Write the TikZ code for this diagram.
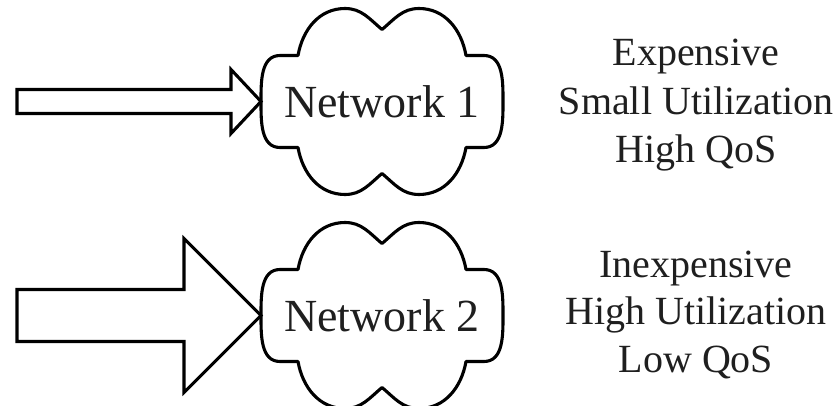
\documentclass[tikz,border=0pt]{standalone}
\usepackage{fontspec}
\setmainfont{Liberation Serif}
\begin{document}
\begin{tikzpicture}[x=1pt,y=1pt,
  outline/.style={draw=black, line width=3.1pt},
  cloudline/.style={outline, line join=round},
  arrowline/.style={outline, line join=miter, fill=white},
  netlabel/.style={inner sep=0pt, text=black!88, font=\fontsize{46}{50}\selectfont},
  proplabel/.style={inner sep=0pt, anchor=base, text=black!88, font=\fontsize{40}{48}\selectfont}]
  \useasboundingbox (0,0) rectangle (840,-406);
  \clip (0,0) rectangle (840,-406);

  % network labels, placed at the centre of each cloud
  \node[netlabel] (net1) at (382,-101.5) {Network 1};
  \node[netlabel] (net2) at (382,-315.5) {Network 2};

  % cloud outline around each label
  \foreach \n in {net1,net2}{
    \begin{scope}[shift={(\n.center)}]
      \coordinate (\n-tip) at (-121,0);
      \draw[cloudline] (0,72)
        to[out=40,in=180] (37,93) to[out=0,in=100] (84,46) -- (102,46)
        to[out=0,in=90] (121,0) to[out=-90,in=0] (102,-46) -- (84,-46)
        to[out=-100,in=0] (37,-93) to[out=180,in=-40] (0,-72)
        to[out=-140,in=0] (-37,-93) to[out=180,in=-80] (-84,-46) -- (-102,-46)
        to[out=180,in=-90] (-121,0) to[out=90,in=180] (-102,46) -- (-84,46)
        to[out=80,in=180] (-37,93) to[out=0,in=140] cycle;
    \end{scope}
  }

  % narrow arrow into network 1
  \draw[arrowline] (net1-tip) -- ++(-30,32) -- ++(0,-20) -- ++(-214,0)
    -- ++(0,-24) -- ++(214,0) -- ++(0,-20) -- cycle;

  % broad arrow into network 2
  \draw[arrowline] (net2-tip) -- ++(-77,77) -- ++(0,-51) -- ++(-167,0)
    -- ++(0,-52) -- ++(167,0) -- ++(0,-51) -- cycle;

  % properties of network 1
  \node[proplabel] (cost1) at (696,-66) {Expensive};
  \node[proplabel] (util1) at (696,-115) {Small Utilization};
  \node[proplabel] (qos1)  at (696,-163) {High QoS};

  % properties of network 2
  \node[proplabel] (cost2) at (696,-277) {Inexpensive};
  \node[proplabel] (util2) at (696,-324) {High Utilization};
  \node[proplabel] (qos2)  at (696,-372) {Low QoS};
\end{tikzpicture}
\end{document}
